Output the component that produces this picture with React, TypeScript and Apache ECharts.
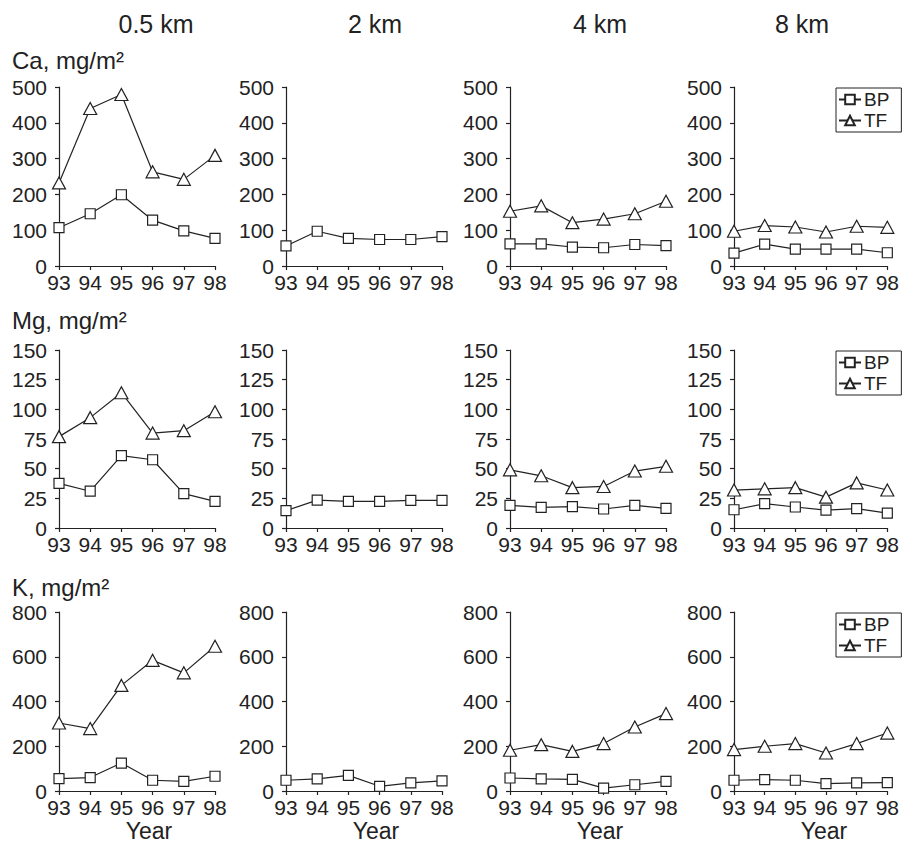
import React, { useEffect, useRef } from "react";
import * as echarts from "echarts";

const YEARS = [93, 94, 95, 96, 97, 98];
const COLUMN_TITLES = ["0.5 km", "2 km", "4 km", "8 km"];
const ROW_TITLES = ["Ca, mg/m²", "Mg, mg/m²", "K, mg/m²"];
const Y_MAX = [500, 150, 800];
const Y_INTERVAL = [100, 25, 200];
const SERIES_NAMES = ["BP", "TF"];

// Ca
const CA_BP_05 = [107, 146, 199, 128, 98, 77];
const CA_TF_05 = [232, 440, 479, 263, 242, 309];
const CA_BP_2 = [56, 97, 77, 74, 74, 82];
const CA_BP_4 = [62, 62, 53, 51, 60, 57];
const CA_TF_4 = [153, 168, 121, 131, 146, 181];
const CA_BP_8 = [36, 61, 47, 47, 47, 37];
const CA_TF_8 = [97, 113, 109, 95, 111, 108];
// Mg
const MG_BP_05 = [37.6, 31, 61, 57.5, 29, 22.4];
const MG_TF_05 = [77, 93, 114, 80, 82, 98];
const MG_BP_2 = [14.6, 23.5, 22.4, 22.4, 23.3, 23.3];
const MG_BP_4 = [19, 17.4, 18, 16, 19, 16.5];
const MG_TF_4 = [49, 44, 34, 35, 48, 52];
const MG_BP_8 = [15.4, 20.5, 17.7, 15, 16.3, 12.6];
const MG_TF_8 = [32, 33, 34, 26, 38, 32];
// K
const K_BP_05 = [55, 60, 125, 48, 43, 66];
const K_TF_05 = [304, 279, 472, 584, 528, 647];
const K_BP_2 = [48, 54, 70, 21, 36, 45];
const K_BP_4 = [58, 54, 52, 13, 28, 43];
const K_TF_4 = [182, 207, 177, 212, 286, 346];
const K_BP_8 = [48, 51, 48, 33, 36, 37];
const K_TF_8 = [185, 200, 212, 170, 212, 259];

// [row][col] => { bp, tf }
const PANELS: { bp: number[]; tf: number[] | null }[][] = [
  [
    { bp: CA_BP_05, tf: CA_TF_05 },
    { bp: CA_BP_2, tf: null },
    { bp: CA_BP_4, tf: CA_TF_4 },
    { bp: CA_BP_8, tf: CA_TF_8 },
  ],
  [
    { bp: MG_BP_05, tf: MG_TF_05 },
    { bp: MG_BP_2, tf: null },
    { bp: MG_BP_4, tf: MG_TF_4 },
    { bp: MG_BP_8, tf: MG_TF_8 },
  ],
  [
    { bp: K_BP_05, tf: K_TF_05 },
    { bp: K_BP_2, tf: null },
    { bp: K_BP_4, tf: K_TF_4 },
    { bp: K_BP_8, tf: K_TF_8 },
  ],
];

const COL_LEFT = [59, 286, 510, 734];
const COL_WIDTH = 156;
const ROW_TOP = [87, 350, 612];
const ROW_HEIGHT = [179, 178, 179];
const INK = "#222";
const FONT = "'Liberation Sans', Arial, Helvetica, sans-serif";

export default function App() {
  const ref = useRef<HTMLDivElement>(null);
  useEffect(() => {
    document.body.style.margin = "0";
    if (!ref.current) return;
    const chart = echarts.init(ref.current, null, { renderer: "svg" });

    const grid: any[] = [];
    const xAxis: any[] = [];
    const yAxis: any[] = [];
    const series: any[] = [];
    const legend: any[] = [];
    const graphic: any[] = [];

    for (let r = 0; r < 3; r++) {
      for (let c = 0; c < 4; c++) {
        const idx = grid.length;
        grid.push({
          left: COL_LEFT[c],
          top: ROW_TOP[r],
          width: COL_WIDTH,
          height: ROW_HEIGHT[r],
        });
        xAxis.push({
          type: "value",
          gridIndex: idx,
          min: 93,
          max: 98,
          interval: 1,
          splitLine: { show: false },
          axisLine: { lineStyle: { color: INK, width: 1.2 } },
          axisTick: { length: 4, lineStyle: { color: INK, width: 1.2 } },
          axisLabel: {
            color: INK,
            fontSize: 21,
            fontFamily: FONT,
            margin: 6,
          },
        });
        yAxis.push({
          type: "value",
          gridIndex: idx,
          min: 0,
          max: Y_MAX[r],
          interval: Y_INTERVAL[r],
          splitLine: { show: false },
          axisLine: { show: true, lineStyle: { color: INK, width: 1.2 } },
          axisTick: { show: true, length: 4, lineStyle: { color: INK, width: 1.2 } },
          axisLabel: {
            color: INK,
            fontSize: 21,
            fontFamily: FONT,
            margin: 12,
          },
        });
        const p = PANELS[r][c];
        const mk = (name: string, vals: number[], sym: string, size: any) => ({
          type: "line",
          name,
          xAxisIndex: idx,
          yAxisIndex: idx,
          data: YEARS.map((y, i) => [y, vals[i]]),
          symbol: sym,
          symbolSize: size,
          showSymbol: true,
          clip: false,
          lineStyle: { color: INK, width: 1.2 },
          itemStyle: { color: "#fff", borderColor: INK, borderWidth: 1.2 },
          emphasis: { disabled: true },
        });
        series.push(mk(SERIES_NAMES[0], p.bp, "rect", 10));
        if (p.tf) series.push(mk(SERIES_NAMES[1], p.tf, "triangle", [13, 12]));

        if (c === 3) {
          legend.push({
            data: SERIES_NAMES,
            orient: "vertical",
            left: 836,
            top: ROW_TOP[r] + 1,
            itemWidth: 22,
            itemHeight: 12,
            itemGap: 2,
            padding: [2, 12, 2, 2],
            borderColor: INK,
            borderWidth: 1,
            selectedMode: false,
            textStyle: { color: INK, fontSize: 19, fontFamily: FONT, padding: [0, 0, 0, -2] },
          });
        }
      }
    }

    const colCenters = COL_LEFT.map((l) => l + COL_WIDTH / 2);
    const titleX = [156, 375, 600, 802];
    COLUMN_TITLES.forEach((t, i) => {
      graphic.push({
        type: "text",
        x: titleX[i],
        y: 24,
        style: {
          text: t,
          fill: INK,
          font: `25px ${FONT}`,
          textAlign: "center",
          textVerticalAlign: "middle",
        },
      });
    });
    const rowTitleY = [60, 320, 587];
    ROW_TITLES.forEach((t, i) => {
      graphic.push({
        type: "text",
        x: 12,
        y: rowTitleY[i],
        style: {
          text: t,
          fill: INK,
          font: `24px ${FONT}`,
          textAlign: "left",
          textVerticalAlign: "middle",
        },
      });
    });
    colCenters.forEach((cx) => {
      graphic.push({
        type: "text",
        x: cx + 12,
        y: 831,
        style: {
          text: "Year",
          fill: INK,
          font: `23px ${FONT}`,
          textAlign: "center",
          textVerticalAlign: "middle",
        },
      });
    });

    chart.setOption({
      animation: false,
      backgroundColor: "#fff",
      grid,
      xAxis,
      yAxis,
      series,
      legend,
      graphic,
    });
    return () => chart.dispose();
  }, []);
  return <div ref={ref} style={{ width: 902, height: 844 }} />;
}
